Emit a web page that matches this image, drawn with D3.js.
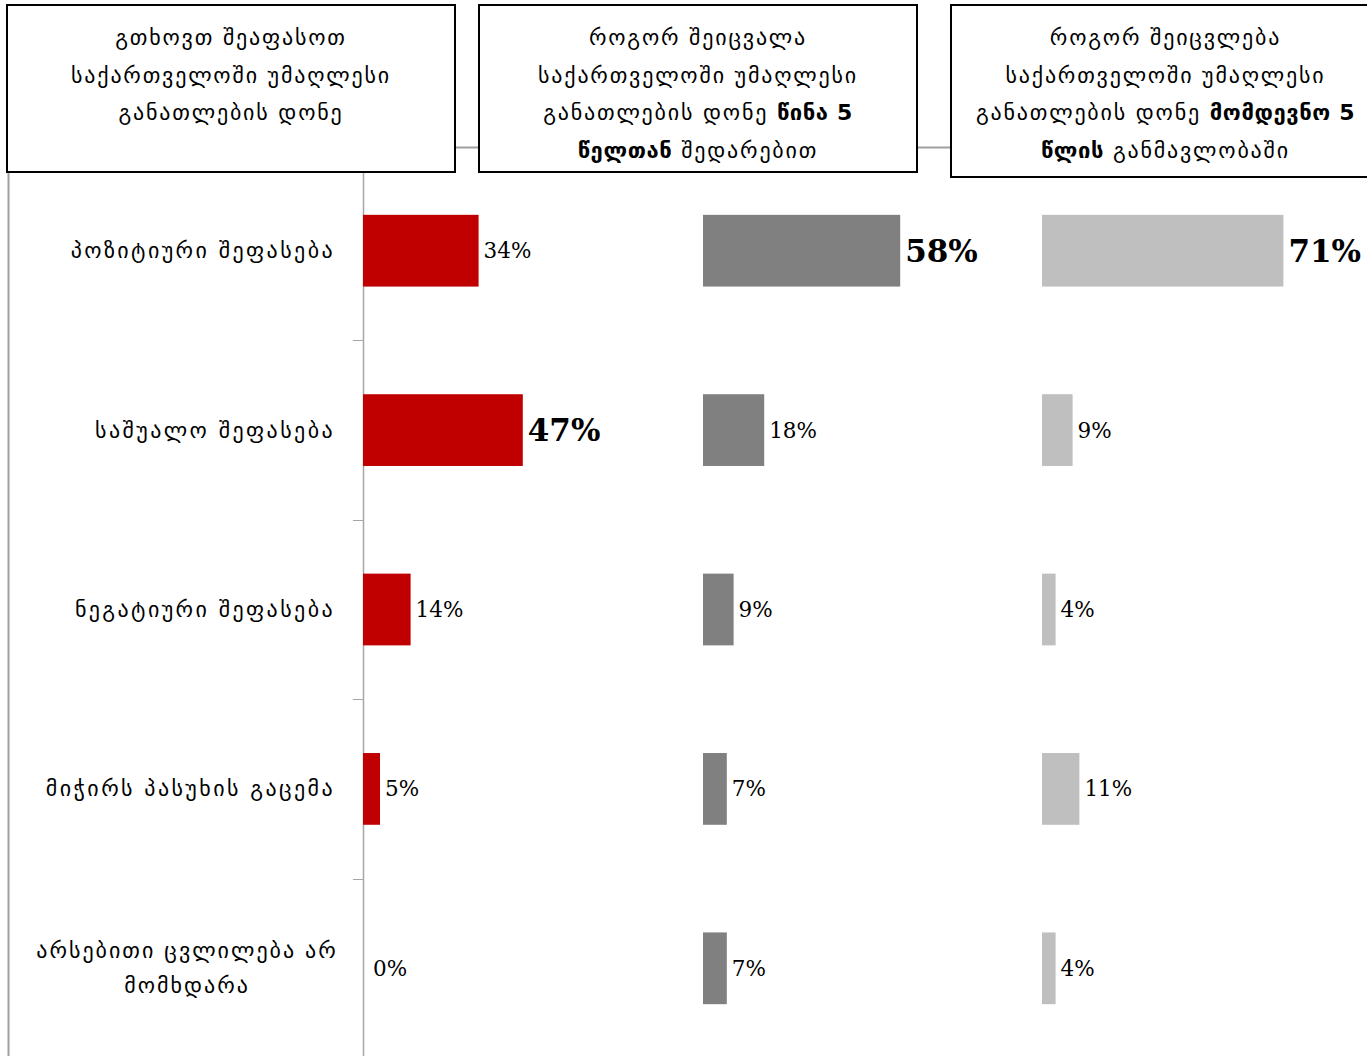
<!DOCTYPE html>
<html>
<head>
<meta charset="utf-8">
<script src="https://cdn.jsdelivr.net/npm/d3@7"></script>
<style>
  body { margin: 0; background: #fff; }
  svg { display: block; }
</style>
</head>
<body>
<div id="chart"></div>
<script>
var width = 1367, height = 1056;

// categories (line breaks as in the original)
var categories = [
    ["პოზიტიური შეფასება"],
    ["საშუალო შეფასება"],
    ["ნეგატიური შეფასება"],
    ["მიჭირს პასუხის გაცემა"],
    ["არსებითი ცვლილება არ", "მომხდარა"]
];

// series values, %
var current = [34, 47, 14, 5, 0];
var past5 = [58, 18, 9, 7, 7];
var next5 = [71, 9, 4, 11, 4];

// header texts: each line is a list of [text, bold]
var header1 = [
    [["გთხოვთ შეაფასოთ", false]],
    [["საქართველოში უმაღლესი", false]],
    [["განათლების დონე", false]]
];
var header2 = [
    [["როგორ შეიცვალა", false]],
    [["საქართველოში უმაღლესი", false]],
    [["განათლების დონე ", false], ["წინა 5", true]],
    [["წელთან", true], [" შედარებით", false]]
];
var header3 = [
    [["როგორ შეიცვლება", false]],
    [["საქართველოში უმაღლესი", false]],
    [["განათლების დონე ", false], ["მომდევნო 5", true]],
    [["წლის", true], [" განმავლობაში", false]]
];

var colors = ["#C00000", "#808080", "#BFBFBF"];
var series = [current, past5, next5];
var panelLeft = [363, 703, 1042];

var svg = d3.select("#chart").append("svg")
    .attr("width", width)
    .attr("height", height);

var geoFont = "'DejaVu Sans', 'Noto Sans', sans-serif";
var numFont = "'DejaVu Serif', 'Liberation Serif', serif";

// ---- outer gray frame (only left + connectors visible) ----
svg.append("rect")
    .attr("x", 8.5).attr("y", 147.5)
    .attr("width", width + 20).attr("height", height)
    .attr("fill", "none")
    .attr("stroke", "#A0A0A0")
    .attr("stroke-width", 2);

// ---- scales ----
var y = d3.scaleBand()
    .domain(d3.range(categories.length))
    .range([161, 1058])
    .paddingInner(0.6)
    .paddingOuter(0.3);

var x = d3.scaleLinear()
    .domain([0, 100])
    .range([0, 340]);

// ---- category axis ----
var axisG = svg.append("g");
axisG.append("line")
    .attr("x1", 363.5).attr("x2", 363.5)
    .attr("y1", 172).attr("y2", height)
    .attr("stroke", "#A6A6A6").attr("stroke-width", 1.5);

function boundary(i) {
    return Math.round(y(i) - y.step() * y.paddingInner() / 2) + 0.5;
}

axisG.selectAll(".tick")
    .data(d3.range(1, categories.length))
    .enter().append("line")
    .attr("x1", 353).attr("x2", 363)
    .attr("y1", boundary)
    .attr("y2", boundary)
    .attr("stroke", "#A6A6A6");

// category labels
categories.forEach(function(lines, i) {
    var cy = y(i) + y.bandwidth() / 2;
    var lh = 35;
    var t = svg.append("text")
        .attr("font-family", geoFont)
        .attr("font-size", 22)
        .attr("letter-spacing", lines.length > 1 ? 2.0 : 2.4)
        .attr("fill", "#000")
        .attr("text-anchor", lines.length > 1 ? "middle" : "end");
    lines.forEach(function(l, k) {
        t.append("tspan")
            .attr("x", lines.length > 1 ? 187 : 335)
            .attr("y", cy + (k - (lines.length - 1) / 2) * lh)
            .attr("dominant-baseline", "central")
            .text(l);
    });
});

// ---- bars + labels ----
series.forEach(function(vals, s) {
    var maxV = d3.max(vals);
    var g = svg.append("g")
        .attr("transform", "translate(" + panelLeft[s] + ",0)");

    g.selectAll("rect")
        .data(vals)
        .enter().append("rect")
        .attr("x", 0)
        .attr("y", function(d, i) { return y(i); })
        .attr("width", function(d) { return x(d); })
        .attr("height", y.bandwidth())
        .attr("fill", colors[s]);

    g.selectAll("text")
        .data(vals)
        .enter().append("text")
        .attr("x", function(d) { return x(d) + (d === 0 ? 10 : 5); })
        .attr("y", function(d, i) { return y(i) + y.bandwidth() / 2; })
        .attr("dominant-baseline", "central")
        .attr("font-family", numFont)
        .attr("font-size", function(d) { return d === maxV ? 31 : 21.5; })
        .attr("font-weight", function(d) { return d === maxV ? "bold" : "normal"; })
        .attr("fill", "#000")
        .text(function(d) { return d + "%"; });
});

// ---- header boxes ----
function headerBox(lines, x0, x1, y0, y1) {
    svg.append("rect")
        .attr("x", x0).attr("y", y0)
        .attr("width", x1 - x0).attr("height", y1 - y0)
        .attr("fill", "#fff")
        .attr("stroke", "#000")
        .attr("stroke-width", 2);
    var cx = (x0 + x1) / 2;
    lines.forEach(function(parts, k) {
        var t = svg.append("text")
            .attr("x", cx)
            .attr("y", 37 + k * 37.5)
            .attr("text-anchor", "middle")
            .attr("dominant-baseline", "central")
            .attr("font-family", geoFont)
            .attr("font-size", 22)
            .attr("fill", "#000");
        parts.forEach(function(p) {
            t.append("tspan")
                .attr("font-weight", p[1] ? "bold" : "normal")
                .attr("letter-spacing", p[1] ? 0.6 : 1.8)
                .text(p[0]);
        });
    });
}

headerBox(header1, 7, 455, 5, 172);
headerBox(header2, 479, 917, 5, 172);
headerBox(header3, 951, 1380, 5, 177);
</script>
</body>
</html>
